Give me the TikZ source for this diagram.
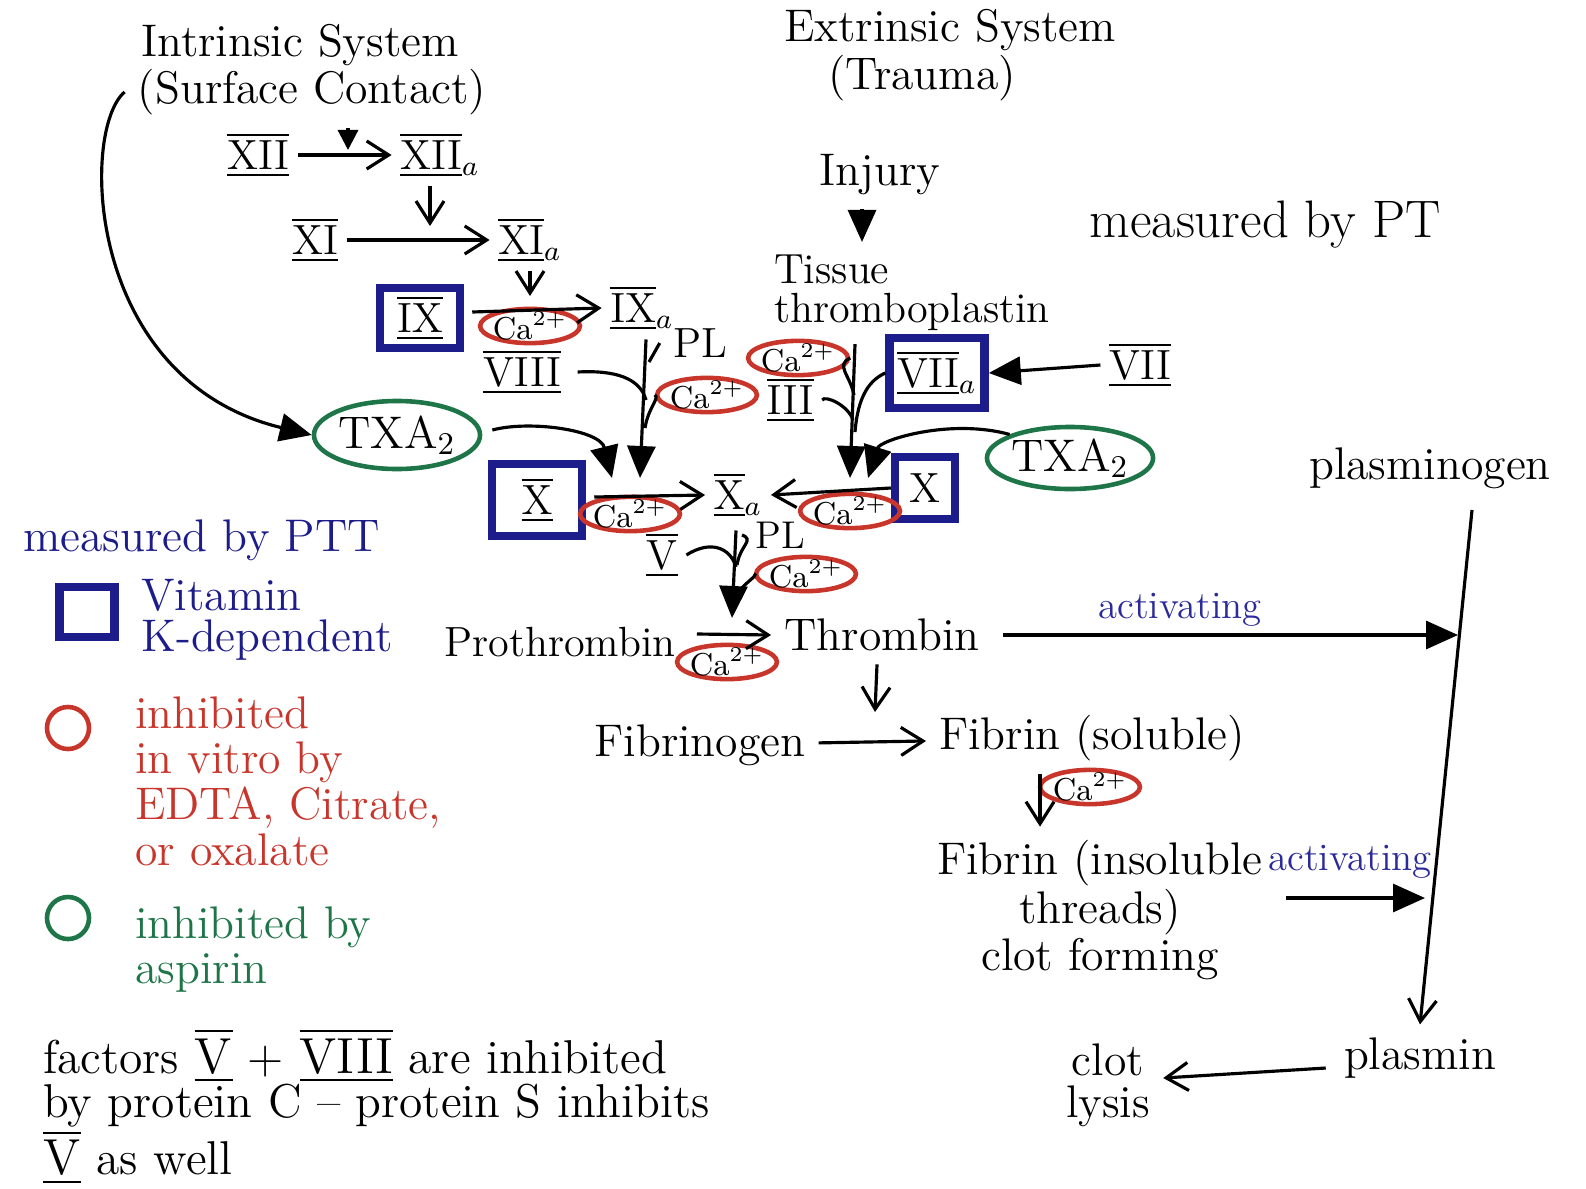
\documentclass[tikz,border=0pt]{standalone}
\usepackage{amsmath}
\usetikzlibrary{arrows.meta,positioning,shapes.geometric}
\definecolor{kblue}{HTML}{1C1C8A}
\definecolor{cared}{HTML}{C8352B}
\definecolor{aspgreen}{HTML}{1E7548}
\definecolor{actblue}{HTML}{2A2A9A}
\newcommand{\rnum}[1]{$\overline{\underline{\mathrm{#1}}}$}

\begin{document}
\begin{tikzpicture}[x=0.01cm, y=-0.01cm, line width=0.9pt,
  every node/.style={font=\fontsize{13}{15}\selectfont},
  fac/.style={inner sep=2pt, font=\fontsize{12}{14}\selectfont},
  vitk/.style={draw=kblue, line width=2.4pt, inner sep=2pt},
  ca/.style={ellipse, draw=cared, line width=1.3pt, inner sep=-0.5pt, font=\fontsize{9}{11}\selectfont},
  asp/.style={ellipse, draw=aspgreen, line width=1.3pt, inner sep=0pt},
  act/.style={font=\fontsize{11}{13}\selectfont, text=actblue},
  flowarr/.style={-{Straight Barb[length=2.2mm,width=2.8mm]}},
  heavyarr/.style={-{Triangle[length=3.2mm,width=2.8mm]}}]
\useasboundingbox (0,0) rectangle (1586,1188);

% intrinsic system
\node (intr) at (300,45) {Intrinsic System};
\node (surf) at (312,92) {(Surface Contact)};
\node[fac] (f12) at (258,155) {\rnum{XII}};
\node[fac] (f12a) at (440,155) {\rnum{XII}$_a$};
\node[fac] (f11) at (315,240) {\rnum{XI}};
\node[fac] (f11a) at (530,240) {\rnum{XI}$_a$};
\node[fac, vitk, minimum width=0.8cm, minimum height=0.55cm] (f9) at (420,318) {\rnum{IX}};
\node[ca] (ca9) at (530,326) {Ca$^{2+}$};
\node[fac] (f9a) at (642,308) {\rnum{IX}$_a$};
\node[fac] (f8) at (522,372) {\rnum{VIII}};
\node[font=\fontsize{12}{14}\selectfont] (pl1) at (700,343) {PL};
\node[ca] (ca8) at (707,395) {Ca$^{2+}$};
\node[asp, minimum width=1.1cm, minimum height=0.68cm] (txl) at (397,435) {TXA$_2$};
\node[fac, vitk, minimum width=0.9cm, minimum height=0.72cm] (f10l) at (537,500) {\rnum{X}};
\node[ca] (ca10l) at (630,514) {Ca$^{2+}$};
\node[fac] (f10a) at (738,495) {\rnum{X}$_a$};

% extrinsic system
\node (extr) at (950,30) {Extrinsic System};
\node (trau) at (922,78) {(Trauma)};
\node (inj) at (880,175) {Injury};
\node[align=left, font=\fontsize{12}{11}\selectfont] (tiss) at (912,293) {Tissue\\thromboplastin};
\node[ca] (ca7) at (798,358) {Ca$^{2+}$};
\node[fac] (f3) at (790,400) {\rnum{III}};
\node[fac, vitk, minimum width=0.95cm, minimum height=0.7cm] (f7a) at (937,373) {\rnum{VII}$_a$};
\node[fac] (f7) at (1140,365) {\rnum{VII}};
\node[asp, minimum width=1.1cm, minimum height=0.62cm] (txr) at (1070,458) {TXA$_2$};
\node[fac, vitk, minimum width=0.6cm, minimum height=0.62cm] (f10r) at (925,488) {X};
\node[ca] (ca10r) at (850,511) {Ca$^{2+}$};

% common pathway
\node[fac] (f5) at (662,555) {\rnum{V}};
\node[font=\fontsize{11}{13}\selectfont] (pl2) at (780,535) {PL};
\node[ca] (ca5) at (806,574) {Ca$^{2+}$};
\node[font=\fontsize{12}{14}\selectfont] (proth) at (560,642) {Prothrombin};
\node[ca] (cath) at (727,662) {Ca$^{2+}$};
\node (thromb) at (882,635) {Thrombin};
\node (fibgen) at (700,745) {Fibrinogen};
\node (fibsol) at (1092,738) {Fibrin (soluble)};
\node[ca] (cafib) at (1090,787) {Ca$^{2+}$};
\node[align=center, font=\fontsize{13}{11.5}\selectfont] (fibins) at (1100,910) {Fibrin (insoluble\\threads)\\clot forming};

% fibrinolysis
\node (pt) at (1265,225) {\fontsize{15}{17}\selectfont measured by PT};
\node (plgen) at (1430,468) {plasminogen};
\node (plmin) at (1420,1058) {plasmin};
\node[align=center, font=\fontsize{13}{12}\selectfont] (lysis) at (1108,1085) {clot\\lysis};
\node[act] (act1) at (1180,610) {activating};
\node[act] (act2) at (1350,862) {activating};

% legend
\node[anchor=west, text=kblue] (ptt) at (10,540) {measured by PTT};
\node[vitk, minimum width=0.55cm, minimum height=0.5cm, inner sep=0pt] (kbox) at (87,612) {};
\node[anchor=west, text=kblue, align=left, font=\fontsize{13}{11.5}\selectfont] (ktxt) at (128,620) {Vitamin\\K-dependent};
\node[circle, draw=cared, line width=1.3pt, minimum size=0.42cm] (rcirc) at (68,728) {};
\node[anchor=north west, text=cared, align=left, font=\fontsize{13}{13}\selectfont] (rtxt) at (122,683) {inhibited\\in vitro by\\EDTA, Citrate,\\or oxalate};
\node[circle, draw=aspgreen, line width=1.3pt, minimum size=0.42cm] (gcirc) at (68,918) {};
\node[anchor=north west, text=aspgreen, align=left, font=\fontsize{13}{13}\selectfont] (gtxt) at (122,893) {inhibited by\\aspirin};
\node[anchor=north west, align=left, font=\fontsize{13.5}{12.5}\selectfont] (note) at (30,1015) {factors \rnum{V} + \rnum{VIII} are inhibited\\by protein C -- protein S inhibits\\\rnum{V} as well};

% junction points
\coordinate (j12) at (348,150);
\coordinate (j11) at (430,226);
\coordinate (j9) at (530,296);
\coordinate (j10l) at (640,478);
\coordinate (j10r) at (850,478);
\coordinate (jth) at (732,618);
\coordinate (jfib) at (875,712);
\coordinate (ptop) at (1472,510);
\coordinate (phit1) at (1458,635);
\coordinate (phit2) at (1425,898);

% intrinsic arrows
\draw[-{Triangle[length=2mm,width=2mm]}] (surf.south -| j12) -- (j12);
\draw[flowarr] (f12) -- (f12a);
\draw[flowarr] (f12a.south -| j11) -- (j11);
\draw[flowarr] (f11) -- (f11a);
\draw[flowarr] (f11a.south -| j9) -- (j9);
\draw[flowarr] (f9.east) ++(8,-6) -- (f9a.west);
\draw[heavyarr] (f9a.south) ++(4,0) -- (j10l);
\draw (pl1.west) -- (649,362);
\draw (f8.east) ++(8,0) .. controls (615,370) and (640,378) .. (646,400);
\draw (ca8.west) .. controls (660,398) and (648,408) .. (645,428);
\draw[heavyarr] (surf.west) .. controls (80,130) and (85,380) .. (txl.west);
\draw[heavyarr] (txl.east) ++(10,-5) .. controls (530,420) and (600,430) .. (612,478);
\draw[flowarr] (f10l.east) ++(8,-3) -- (f10a.west);

% extrinsic arrows
\draw[heavyarr] (inj.south) ++(-18,0) -- (tiss.north -| 862,0);
\draw[heavyarr] (tiss.south -| 855,0) -- (j10r);
\draw (ca7.east) .. controls (835,365) and (850,375) .. (854,395);
\draw (f3.east) .. controls (825,395) and (848,405) .. (853,420);
\draw (f7a.west) .. controls (870,380) and (858,395) .. (855,432);
\draw[heavyarr] (f7.west) -- (f7a.east);
\draw[heavyarr] (txr.north west) .. controls (950,418) and (880,440) .. (868,478);
\draw[flowarr] (f10r.west) -- (f10a.east);

% common arrows
\draw[heavyarr] (f10a.south) ++(-2,4) -- (jth);
\draw (f5.east) .. controls (710,540) and (730,547) .. (736,567);
\draw (pl2.west) .. controls (755,540) and (740,545) .. (737,565);
\draw (ca5.west) .. controls (760,575) and (740,585) .. (735,598);
\draw[flowarr] (proth.east) ++(8,-8) -- (thromb.west);
\draw[flowarr] (thromb.south) ++(-5,0) -- (jfib);
\draw[flowarr] (fibgen) -- (fibsol);
\draw[flowarr] (fibsol.south -| 1040,0) -- (fibins.north -| 1040,0);
\draw[heavyarr] (thromb.east) ++(10,0) -- (phit1);
\draw[heavyarr] (fibins.east |- phit2) ++(10,0) -- (phit2);
\draw[flowarr] (ptop) -- (plmin.north);
\draw[flowarr] (plmin.west) ++(-5,10) -- (lysis.east |- 1232,1078);
\end{tikzpicture}
\end{document}
